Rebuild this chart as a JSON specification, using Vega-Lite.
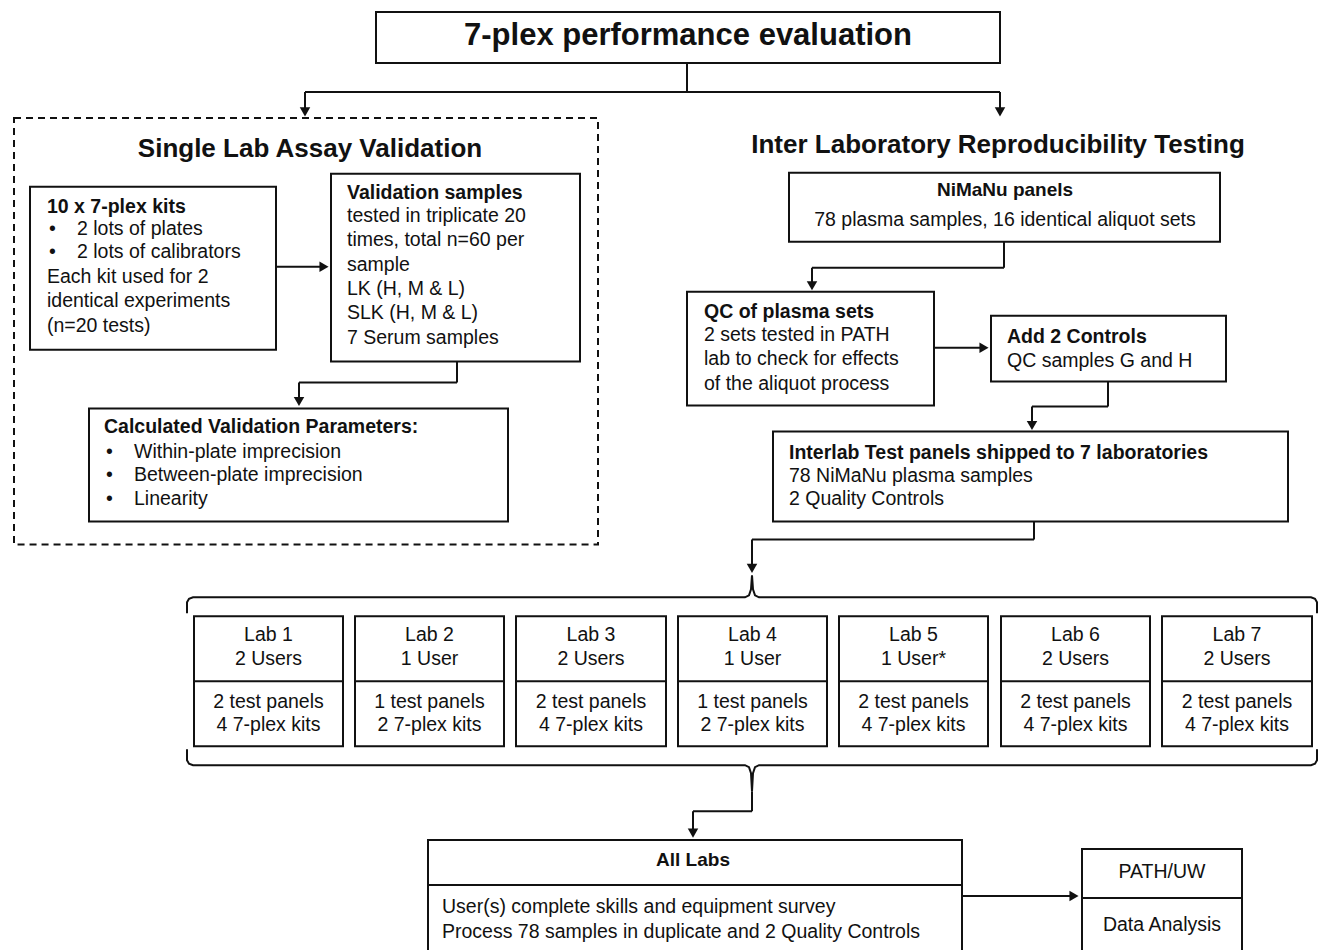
{
  "$schema": "https://vega.github.io/schema/vega-lite/v6.json",
  "width": 1324,
  "height": 951,
  "padding": 0,
  "autosize": {"type": "fit", "contains": "padding"},
  "background": "white",
  "config": {"view": {"stroke": null}},
  "datasets": {
    "frames": [
      {"name": "Single Lab Assay Validation", "x": 14, "y": 118, "x2": 598, "y2": 545}
    ],
    "boxes": [
      {"name": "title", "x": 376, "y": 12, "x2": 1000, "y2": 63},
      {"name": "kits", "x": 30, "y": 187, "x2": 276, "y2": 350},
      {"name": "valid", "x": 331, "y": 174, "x2": 580, "y2": 362},
      {"name": "calc", "x": 89, "y": 409, "x2": 508, "y2": 522},
      {"name": "nimanu", "x": 789, "y": 173, "x2": 1220, "y2": 242},
      {"name": "qc", "x": 687, "y": 292, "x2": 934, "y2": 406},
      {"name": "add", "x": 991, "y": 316, "x2": 1226, "y2": 382},
      {"name": "interlab", "x": 773, "y": 432, "x2": 1288, "y2": 522},
      {"name": "lab1", "x": 194, "y": 617, "x2": 343, "y2": 747},
      {"name": "lab2", "x": 355, "y": 617, "x2": 504, "y2": 747},
      {"name": "lab3", "x": 516, "y": 617, "x2": 666, "y2": 747},
      {"name": "lab4", "x": 678, "y": 617, "x2": 827, "y2": 747},
      {"name": "lab5", "x": 839, "y": 617, "x2": 988, "y2": 747},
      {"name": "lab6", "x": 1001, "y": 617, "x2": 1150, "y2": 747},
      {"name": "lab7", "x": 1162, "y": 617, "x2": 1312, "y2": 747}
    ],
    "segs": [
      {"x": 687, "y": 63, "x2": 687, "y2": 92},
      {"x": 305, "y": 92, "x2": 1000, "y2": 92},
      {"x": 305, "y": 92, "x2": 305, "y2": 110},
      {"x": 1000, "y": 92, "x2": 1000, "y2": 110},
      {"x": 276, "y": 267, "x2": 322, "y2": 267},
      {"x": 457, "y": 362, "x2": 457, "y2": 383},
      {"x": 299, "y": 383, "x2": 457, "y2": 383},
      {"x": 299, "y": 383, "x2": 299, "y2": 400},
      {"x": 1004, "y": 242, "x2": 1004, "y2": 268},
      {"x": 812, "y": 268, "x2": 1004, "y2": 268},
      {"x": 812, "y": 268, "x2": 812, "y2": 284},
      {"x": 934, "y": 348, "x2": 982, "y2": 348},
      {"x": 1108, "y": 382, "x2": 1108, "y2": 407},
      {"x": 1032, "y": 407, "x2": 1108, "y2": 407},
      {"x": 1032, "y": 407, "x2": 1032, "y2": 424},
      {"x": 1034, "y": 522, "x2": 1034, "y2": 540},
      {"x": 752, "y": 540, "x2": 1034, "y2": 540},
      {"x": 752, "y": 540, "x2": 752, "y2": 567},
      {"x": 752, "y": 792, "x2": 752, "y2": 812},
      {"x": 693, "y": 812, "x2": 752, "y2": 812},
      {"x": 693, "y": 812, "x2": 693, "y2": 832},
      {"x": 962, "y": 897, "x2": 1072, "y2": 897},
      {"x": 194, "y": 682, "x2": 343, "y2": 682},
      {"x": 355, "y": 682, "x2": 504, "y2": 682},
      {"x": 516, "y": 682, "x2": 666, "y2": 682},
      {"x": 678, "y": 682, "x2": 827, "y2": 682},
      {"x": 839, "y": 682, "x2": 988, "y2": 682},
      {"x": 1001, "y": 682, "x2": 1150, "y2": 682},
      {"x": 1162, "y": 682, "x2": 1312, "y2": 682},
      {"x": 427, "y": 841, "x2": 963, "y2": 841},
      {"x": 428, "y": 841, "x2": 428, "y2": 951},
      {"x": 962, "y": 841, "x2": 962, "y2": 951},
      {"x": 428, "y": 886, "x2": 962, "y2": 886},
      {"x": 1081, "y": 850, "x2": 1243, "y2": 850},
      {"x": 1082, "y": 850, "x2": 1082, "y2": 951},
      {"x": 1242, "y": 850, "x2": 1242, "y2": 951},
      {"x": 1082, "y": 899, "x2": 1242, "y2": 899}
    ],
    "brace": [
      {"id": "top", "i": 1, "x": 187, "y": 614},
      {"id": "top", "i": 2, "x": 187, "y": 603},
      {"id": "top", "i": 3, "x": 189, "y": 599.5},
      {"id": "top", "i": 4, "x": 193, "y": 598},
      {"id": "top", "i": 5, "x": 745, "y": 598},
      {"id": "top", "i": 6, "x": 749, "y": 596},
      {"id": "top", "i": 7, "x": 751, "y": 590},
      {"id": "top", "i": 8, "x": 752, "y": 576},
      {"id": "top", "i": 9, "x": 753, "y": 590},
      {"id": "top", "i": 10, "x": 755, "y": 596},
      {"id": "top", "i": 11, "x": 759, "y": 598},
      {"id": "top", "i": 12, "x": 1311, "y": 598},
      {"id": "top", "i": 13, "x": 1315, "y": 599.5},
      {"id": "top", "i": 14, "x": 1317, "y": 603},
      {"id": "top", "i": 15, "x": 1317, "y": 614},
      {"id": "bottom", "i": 1, "x": 187, "y": 750},
      {"id": "bottom", "i": 2, "x": 187, "y": 761},
      {"id": "bottom", "i": 3, "x": 189, "y": 764.5},
      {"id": "bottom", "i": 4, "x": 193, "y": 766},
      {"id": "bottom", "i": 5, "x": 745, "y": 766},
      {"id": "bottom", "i": 6, "x": 749, "y": 768},
      {"id": "bottom", "i": 7, "x": 751, "y": 774},
      {"id": "bottom", "i": 8, "x": 752, "y": 792},
      {"id": "bottom", "i": 9, "x": 753, "y": 774},
      {"id": "bottom", "i": 10, "x": 755, "y": 768},
      {"id": "bottom", "i": 11, "x": 759, "y": 766},
      {"id": "bottom", "i": 12, "x": 1311, "y": 766},
      {"id": "bottom", "i": 13, "x": 1315, "y": 764.5},
      {"id": "bottom", "i": 14, "x": 1317, "y": 761},
      {"id": "bottom", "i": 15, "x": 1317, "y": 750}
    ],
    "arrows": [
      {"x": 305, "y": 112, "dir": "down"},
      {"x": 1000, "y": 112, "dir": "down"},
      {"x": 324, "y": 267, "dir": "right"},
      {"x": 299, "y": 402, "dir": "down"},
      {"x": 812, "y": 286, "dir": "down"},
      {"x": 984, "y": 348, "dir": "right"},
      {"x": 1032, "y": 426, "dir": "down"},
      {"x": 752, "y": 569, "dir": "down"},
      {"x": 693, "y": 834, "dir": "down"},
      {"x": 1074, "y": 897, "dir": "right"}
    ],
    "texts": [
      {"t": "7-plex performance evaluation", "x": 688, "y": 36, "r": "title"},
      {"t": "Single Lab Assay Validation", "x": 310, "y": 149, "r": "head"},
      {"t": "Inter Laboratory Reproducibility  Testing", "x": 998, "y": 145, "r": "head"},
      {"t": "10 x 7-plex kits", "x": 47, "y": 207, "r": "bL"},
      {"t": "•", "x": 49, "y": 229, "r": "rL"},
      {"t": "2 lots of plates", "x": 77, "y": 229, "r": "rL"},
      {"t": "•", "x": 49, "y": 252, "r": "rL"},
      {"t": "2 lots of calibrators", "x": 77, "y": 252, "r": "rL"},
      {"t": "Each kit used for 2", "x": 47, "y": 277, "r": "rL"},
      {"t": "identical experiments", "x": 47, "y": 301, "r": "rL"},
      {"t": "(n=20 tests)", "x": 47, "y": 326, "r": "rL"},
      {"t": "Validation  samples", "x": 347, "y": 193, "r": "bL"},
      {"t": "tested in triplicate 20", "x": 347, "y": 216, "r": "rL"},
      {"t": "times, total n=60 per", "x": 347, "y": 240, "r": "rL"},
      {"t": "sample", "x": 347, "y": 265, "r": "rL"},
      {"t": "LK (H, M  & L)", "x": 347, "y": 289, "r": "rL"},
      {"t": "SLK (H, M  & L)", "x": 347, "y": 313, "r": "rL"},
      {"t": "7 Serum samples", "x": 347, "y": 338, "r": "rL"},
      {"t": "Calculated Validation  Parameters:", "x": 104, "y": 427, "r": "bL"},
      {"t": "•", "x": 106, "y": 452, "r": "rL"},
      {"t": "Within-plate imprecision", "x": 134, "y": 452, "r": "rL"},
      {"t": "•", "x": 106, "y": 476, "r": "rL"},
      {"t": "Between-plate imprecision", "x": 134, "y": 476, "r": "rL"},
      {"t": "•", "x": 106, "y": 500, "r": "rL"},
      {"t": "Linearity", "x": 134, "y": 500, "r": "rL"},
      {"t": "NiMaNu  panels", "x": 1005, "y": 190, "r": "bC"},
      {"t": "78 plasma samples, 16 identical aliquot sets", "x": 1005, "y": 220, "r": "rC"},
      {"t": "QC of plasma sets", "x": 704, "y": 312, "r": "bL"},
      {"t": "2 sets tested in PATH", "x": 704, "y": 335, "r": "rL"},
      {"t": "lab to  check for  effects", "x": 704, "y": 359, "r": "rL"},
      {"t": "of the aliquot process", "x": 704, "y": 384, "r": "rL"},
      {"t": "Add  2 Controls", "x": 1007, "y": 337, "r": "bL"},
      {"t": "QC samples G and H", "x": 1007, "y": 361, "r": "rL"},
      {"t": "Interlab Test panels shipped  to 7 laboratories", "x": 789, "y": 453, "r": "bL"},
      {"t": "78 NiMaNu plasma samples", "x": 789, "y": 477, "r": "rL"},
      {"t": "2 Quality Controls", "x": 789, "y": 500, "r": "rL"},
      {"t": "Lab 1", "x": 268.5, "y": 636, "r": "lab"},
      {"t": "2 Users", "x": 268.5, "y": 660, "r": "lab"},
      {"t": "2 test panels", "x": 268.5, "y": 703, "r": "lab"},
      {"t": "4 7-plex kits", "x": 268.5, "y": 726, "r": "lab"},
      {"t": "Lab 2", "x": 429.5, "y": 636, "r": "lab"},
      {"t": "1 User", "x": 429.5, "y": 660, "r": "lab"},
      {"t": "1 test panels", "x": 429.5, "y": 703, "r": "lab"},
      {"t": "2 7-plex kits", "x": 429.5, "y": 726, "r": "lab"},
      {"t": "Lab 3", "x": 591, "y": 636, "r": "lab"},
      {"t": "2 Users", "x": 591, "y": 660, "r": "lab"},
      {"t": "2 test panels", "x": 591, "y": 703, "r": "lab"},
      {"t": "4 7-plex kits", "x": 591, "y": 726, "r": "lab"},
      {"t": "Lab 4", "x": 752.5, "y": 636, "r": "lab"},
      {"t": "1 User", "x": 752.5, "y": 660, "r": "lab"},
      {"t": "1 test panels", "x": 752.5, "y": 703, "r": "lab"},
      {"t": "2 7-plex kits", "x": 752.5, "y": 726, "r": "lab"},
      {"t": "Lab 5", "x": 913.5, "y": 636, "r": "lab"},
      {"t": "1 User*", "x": 913.5, "y": 660, "r": "lab"},
      {"t": "2 test panels", "x": 913.5, "y": 703, "r": "lab"},
      {"t": "4 7-plex kits", "x": 913.5, "y": 726, "r": "lab"},
      {"t": "Lab 6", "x": 1075.5, "y": 636, "r": "lab"},
      {"t": "2 Users", "x": 1075.5, "y": 660, "r": "lab"},
      {"t": "2 test panels", "x": 1075.5, "y": 703, "r": "lab"},
      {"t": "4 7-plex kits", "x": 1075.5, "y": 726, "r": "lab"},
      {"t": "Lab 7", "x": 1237, "y": 636, "r": "lab"},
      {"t": "2 Users", "x": 1237, "y": 660, "r": "lab"},
      {"t": "2 test panels", "x": 1237, "y": 703, "r": "lab"},
      {"t": "4 7-plex kits", "x": 1237, "y": 726, "r": "lab"},
      {"t": "All Labs", "x": 693, "y": 861, "r": "bC"},
      {"t": "User(s) complete skills and equipment survey", "x": 442, "y": 908, "r": "rL"},
      {"t": "Process 78 samples in duplicate and 2 Quality Controls", "x": 442, "y": 933, "r": "rL"},
      {"t": "PATH/UW", "x": 1162, "y": 873, "r": "rC"},
      {"t": "Data Analysis", "x": 1162, "y": 926, "r": "rC"}
    ]
  },
  "layer": [
    {
      "data": {"name": "frames"},
      "mark": {"type": "rect", "fill": "white", "stroke": "#111", "strokeWidth": 2, "strokeDash": [7, 5]},
      "encoding": {
        "x": {"field": "x", "type": "quantitative", "scale": {"domain": [0, 1324], "nice": false, "zero": false}, "axis": null},
        "x2": {"field": "x2"},
        "y": {"field": "y", "type": "quantitative", "scale": {"domain": [0, 951], "nice": false, "zero": false, "reverse": true}, "axis": null},
        "y2": {"field": "y2"}
      }
    },
    {
      "data": {"name": "boxes"},
      "mark": {"type": "rect", "fill": "white", "stroke": "#111", "strokeWidth": 2},
      "encoding": {
        "x": {"field": "x", "type": "quantitative", "axis": null},
        "x2": {"field": "x2"},
        "y": {"field": "y", "type": "quantitative", "axis": null},
        "y2": {"field": "y2"}
      }
    },
    {
      "data": {"name": "segs"},
      "mark": {"type": "rule", "stroke": "#111", "strokeWidth": 2},
      "encoding": {
        "x": {"field": "x", "type": "quantitative", "axis": null},
        "x2": {"field": "x2"},
        "y": {"field": "y", "type": "quantitative", "axis": null},
        "y2": {"field": "y2"}
      }
    },
    {
      "data": {"name": "brace"},
      "mark": {"type": "line", "stroke": "#111", "strokeWidth": 2},
      "encoding": {
        "x": {"field": "x", "type": "quantitative", "axis": null},
        "y": {"field": "y", "type": "quantitative", "axis": null},
        "detail": {"field": "id"},
        "order": {"field": "i", "type": "quantitative"}
      }
    },
    {
      "data": {"name": "arrows"},
      "mark": {"type": "point", "filled": true, "color": "#111", "size": 110, "opacity": 1},
      "encoding": {
        "x": {"field": "x", "type": "quantitative", "axis": null},
        "y": {"field": "y", "type": "quantitative", "axis": null},
        "shape": {"field": "dir", "type": "nominal", "scale": {"domain": ["down", "right"], "range": ["triangle-down", "triangle-right"]}, "legend": null}
      }
    },
    {
      "data": {"name": "texts"},
      "transform": [{"filter": "datum.r === 'title'"}],
      "mark": {"type": "text", "font": "Liberation Sans", "fontWeight": "bold", "fontSize": 31, "align": "center", "baseline": "middle", "color": "#111"},
      "encoding": {
        "x": {"field": "x", "type": "quantitative", "axis": null},
        "y": {"field": "y", "type": "quantitative", "axis": null},
        "text": {"field": "t"}
      }
    },
    {
      "data": {"name": "texts"},
      "transform": [{"filter": "datum.r === 'head'"}],
      "mark": {"type": "text", "font": "Liberation Sans", "fontWeight": "bold", "fontSize": 26, "align": "center", "baseline": "middle", "color": "#111"},
      "encoding": {
        "x": {"field": "x", "type": "quantitative", "axis": null},
        "y": {"field": "y", "type": "quantitative", "axis": null},
        "text": {"field": "t"}
      }
    },
    {
      "data": {"name": "texts"},
      "transform": [{"filter": "datum.r === 'bL'"}],
      "mark": {"type": "text", "font": "Liberation Sans", "fontWeight": "bold", "fontSize": 19.5, "align": "left", "baseline": "middle", "color": "#111"},
      "encoding": {
        "x": {"field": "x", "type": "quantitative", "axis": null},
        "y": {"field": "y", "type": "quantitative", "axis": null},
        "text": {"field": "t"}
      }
    },
    {
      "data": {"name": "texts"},
      "transform": [{"filter": "datum.r === 'rL'"}],
      "mark": {"type": "text", "font": "Liberation Sans", "fontSize": 19.5, "align": "left", "baseline": "middle", "color": "#111"},
      "encoding": {
        "x": {"field": "x", "type": "quantitative", "axis": null},
        "y": {"field": "y", "type": "quantitative", "axis": null},
        "text": {"field": "t"}
      }
    },
    {
      "data": {"name": "texts"},
      "transform": [{"filter": "datum.r === 'bC'"}],
      "mark": {"type": "text", "font": "Liberation Sans", "fontWeight": "bold", "fontSize": 19, "align": "center", "baseline": "middle", "color": "#111"},
      "encoding": {
        "x": {"field": "x", "type": "quantitative", "axis": null},
        "y": {"field": "y", "type": "quantitative", "axis": null},
        "text": {"field": "t"}
      }
    },
    {
      "data": {"name": "texts"},
      "transform": [{"filter": "datum.r === 'rC' || datum.r === 'lab'"}],
      "mark": {"type": "text", "font": "Liberation Sans", "fontSize": 19.5, "align": "center", "baseline": "middle", "color": "#111"},
      "encoding": {
        "x": {"field": "x", "type": "quantitative", "axis": null},
        "y": {"field": "y", "type": "quantitative", "axis": null},
        "text": {"field": "t"}
      }
    }
  ]
}
